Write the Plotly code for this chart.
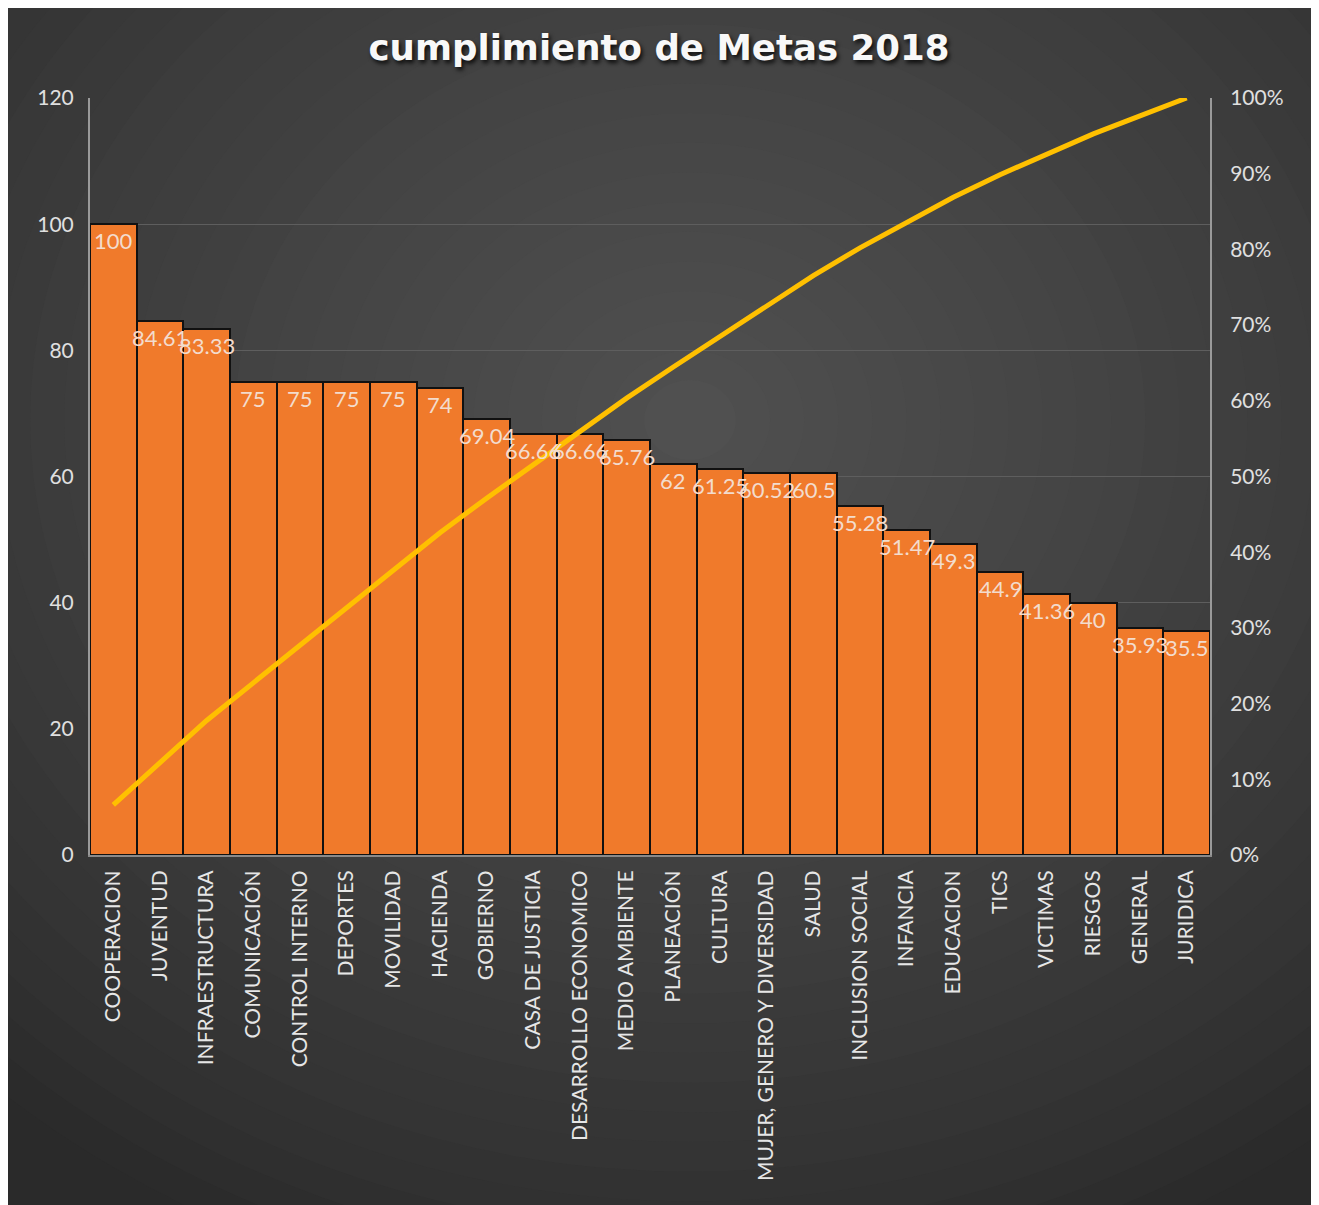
import plotly.graph_objects as go

categories = ["COOPERACION", "JUVENTUD", "INFRAESTRUCTURA", "COMUNICACIÓN", "CONTROL INTERNO",
              "DEPORTES", "MOVILIDAD", "HACIENDA", "GOBIERNO", "CASA DE JUSTICIA",
              "DESARROLLO ECONOMICO", "MEDIO AMBIENTE", "PLANEACIÓN", "CULTURA",
              "MUJER, GENERO Y DIVERSIDAD", "SALUD", "INCLUSION SOCIAL", "INFANCIA",
              "EDUCACION", "TICS", "VICTIMAS", "RIESGOS", "GENERAL", "JURIDICA"]
values = [100, 84.61, 83.33, 75, 75, 75, 75, 74, 69.04, 66.66, 66.66, 65.76, 62, 61.25,
          60.52, 60.5, 55.28, 51.47, 49.3, 44.9, 41.36, 40, 35.93, 35.5]
cumulative_pct = [0.0663, 0.1224, 0.1777, 0.2274, 0.2771, 0.3269, 0.3766, 0.4257, 0.4714,
                  0.5156, 0.5598, 0.6035, 0.6446, 0.6852, 0.7253, 0.7654, 0.8021, 0.8362,
                  0.8689, 0.8987, 0.9261, 0.9526, 0.9764, 1.0]
left_ticks = [0, 20, 40, 60, 80, 100, 120]
right_ticks = [i / 10 for i in range(11)]

# page has an 8px body margin; figure coordinates are page coordinates minus 8
OFF = 8
W, H = 1319 - OFF, 1205 - OFF
L, R, T, B = 90 - OFF, 1210 - OFF, 98 - OFF, 855 - OFF
PW, PH = R - L, B - T


def px(x):  # page x -> paper
    return (x - OFF - L) / PW


def py(y):  # page y -> paper
    return (B - (y - OFF)) / PH


shapes = []
shapes.append(dict(type="rect", xref="paper", yref="paper", layer="below",
                   x0=px(0), x1=px(1314), y0=py(1230), y1=py(0),
                   fillcolor="#2a2a2a", line=dict(width=0)))
cx, cy = 690, 420
N = 30
for i in range(N):
    t = i / (N - 1)
    r = 900 * (1 - t) + 40 * t
    c = int(0x2b + (0x50 - 0x2b) * (t ** 0.8))
    col = f"rgb({c},{c},{c})"
    shapes.append(dict(type="circle", xref="paper", yref="paper", layer="below",
                       x0=px(cx - r * 1.15), x1=px(cx + r * 1.15),
                       y0=py(cy + r), y1=py(cy - r),
                       fillcolor=col, line=dict(width=0)))
for (x0, x1, y0, y1) in [(-40, 7, -40, 1300), (1314, 1400, -40, 1300), (-40, 1400, -60, 7)]:
    shapes.append(dict(type="rect", xref="paper", yref="paper", layer="below",
                       x0=px(x0), x1=px(x1), y0=py(y1), y1=py(y0),
                       fillcolor="white", line=dict(width=0)))

font_family = "Lato, 'Open Sans', sans-serif"

annotations = [dict(x=c, y=v, xref="x", yref="y", text=f"{v:g}", showarrow=False,
                    yanchor="top", xanchor="center", yshift=-1,
                    font=dict(family=font_family, size=22, color="#f3dccd"))
               for c, v in zip(categories, values)]

fig = go.Figure()
fig.add_trace(go.Bar(
    x=categories, y=values,
    marker=dict(color="#f07a2b", line=dict(color="#111111", width=2)),
    width=1.0, showlegend=False,
))
fig.add_trace(go.Scatter(
    x=categories, y=cumulative_pct, yaxis="y2", mode="lines",
    line=dict(color="#ffc000", width=5), showlegend=False,
))

fig.update_layout(
    width=W, height=H,
    margin=dict(l=L, r=W - R, t=T, b=H - B, pad=0),
    paper_bgcolor="white", plot_bgcolor="rgba(0,0,0,0)",
    shapes=shapes, annotations=annotations, bargap=0,
    title=dict(text="<b>cumplimiento de Metas 2018</b>", x=(659 - OFF) / W, xanchor="center",
               y=1 - (48 - OFF) / H, yanchor="middle",
               font=dict(family="'DejaVu Sans', sans-serif", size=35.6, color="#f8f8f8",
                         shadow="2px 3px 4px rgba(0,0,0,0.8)")),
    xaxis=dict(range=[-0.5, 23.5], tickangle=-90, showgrid=False,
               tickfont=dict(family=font_family, size=21, color="#e6e6e6"),
               showline=True, linecolor="#8a8a8a", linewidth=2, ticks="",
               ticklabelstandoff=5),
    yaxis=dict(range=[0, 120], tickvals=left_ticks, showgrid=True, gridcolor="#5e5e5e",
               gridwidth=1, zeroline=False, showline=True, linecolor="#9a9a9a", linewidth=2,
               tickfont=dict(family=font_family, size=21, color="#e0e0e0"),
               ticks="", ticklabelstandoff=10),
    yaxis2=dict(range=[0, 1], overlaying="y", side="right", tickvals=right_ticks,
                tickformat=".0%", showgrid=False, zeroline=False, showline=True,
                linecolor="#9a9a9a", linewidth=2,
                tickfont=dict(family=font_family, size=21, color="#e0e0e0"),
                ticks="", ticklabelstandoff=14),
)

fig.write_html("out.html")
